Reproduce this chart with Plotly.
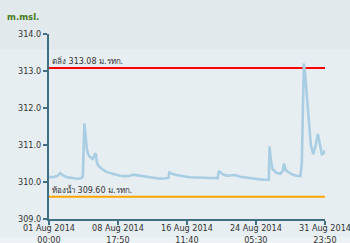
import plotly.graph_objects as go

times = [
    "2014-08-01 00:00", "2014-08-01 10:50", "2014-08-01 21:40", "2014-08-02 05:50", "2014-08-02 13:40",
    "2014-08-03 00:30", "2014-08-03 14:10", "2014-08-04 03:40", "2014-08-04 14:20", "2014-08-04 19:10",
    "2014-08-04 23:20", "2014-08-05 02:20", "2014-08-05 06:30", "2014-08-05 12:00", "2014-08-05 17:20",
    "2014-08-05 21:20", "2014-08-06 01:30", "2014-08-06 05:30", "2014-08-06 09:40", "2014-08-06 14:50",
    "2014-08-06 23:00", "2014-08-07 09:50", "2014-08-07 20:40", "2014-08-08 10:00", "2014-08-08 23:30",
    "2014-08-09 13:00", "2014-08-10 02:40", "2014-08-10 10:30", "2014-08-11 00:00", "2014-08-11 19:00",
    "2014-08-12 08:20", "2014-08-12 22:00", "2014-08-13 11:30", "2014-08-14 01:00", "2014-08-14 09:50",
    "2014-08-14 12:30", "2014-08-14 20:00", "2014-08-15 06:40", "2014-08-15 17:30", "2014-08-16 07:00",
    "2014-08-16 20:20", "2014-08-17 09:50", "2014-08-17 23:30", "2014-08-18 13:00", "2014-08-19 02:20",
    "2014-08-19 15:50", "2014-08-19 22:30", "2014-08-20 02:00", "2014-08-20 10:50", "2014-08-20 21:40",
    "2014-08-21 08:20", "2014-08-21 21:50", "2014-08-22 11:20", "2014-08-23 01:00", "2014-08-23 14:20",
    "2014-08-24 03:50", "2014-08-24 17:20", "2014-08-25 06:40", "2014-08-25 16:20", "2014-08-25 18:30",
    "2014-08-25 21:40", "2014-08-26 02:20", "2014-08-26 12:30", "2014-08-26 23:20", "2014-08-27 06:00",
    "2014-08-27 09:10", "2014-08-27 14:10", "2014-08-27 20:50", "2014-08-28 07:40", "2014-08-28 18:30",
    "2014-08-29 05:20", "2014-08-29 09:20", "2014-08-29 12:00", "2014-08-29 14:50", "2014-08-29 17:30",
    "2014-08-29 22:50", "2014-08-30 04:10", "2014-08-30 09:40", "2014-08-30 16:20", "2014-08-30 23:00",
    "2014-08-31 04:30", "2014-08-31 09:50", "2014-08-31 15:20", "2014-08-31 20:40", "2014-08-31 23:50",
]
water_level = [
    310.14, 310.13, 310.16, 310.24, 310.18,
    310.13, 310.11, 310.09, 310.10, 310.15,
    311.58, 311.20, 310.85, 310.70, 310.64,
    310.62, 310.70, 310.78, 310.50, 310.42,
    310.35, 310.28, 310.24, 310.20, 310.17,
    310.16, 310.17, 310.20, 310.18, 310.16,
    310.13, 310.10, 310.09, 310.10, 310.11,
    310.26, 310.22, 310.19, 310.18, 310.15,
    310.13, 310.12, 310.11, 310.11, 310.11,
    310.11, 310.10, 310.30, 310.22, 310.17,
    310.17, 310.19, 310.14, 310.12, 310.09,
    310.08, 310.07, 310.06, 310.06, 310.96,
    310.60, 310.35, 310.25, 310.22, 310.30,
    310.50, 310.32, 310.27, 310.20, 310.17,
    310.16, 310.50, 311.80, 313.20, 313.00,
    312.30, 311.50, 311.00, 310.75, 311.00,
    311.30, 311.00, 310.75, 310.78, 310.86,
]

bank_level = 313.08
bed_level = 309.60
bank_label = "ตลิ่ง 313.08 ม.รทก."
bed_label = "ท้องน้ำ 309.60 ม.รทก."
x_start = "2014-08-01 00:00"
x_end = "2014-08-31 23:50"
tick_times = ["2014-08-01 00:00", "2014-08-08 17:50", "2014-08-16 11:40", "2014-08-24 05:30", "2014-08-31 23:50"]
tick_labels = ["01 Aug 2014<br>00:00", "08 Aug 2014<br>17:50", "16 Aug 2014<br>11:40",
               "24 Aug 2014<br>05:30", "31 Aug 2014<br>23:50"]
y_ticks = [309.0, 310.0, 311.0, 312.0, 313.0, 314.0]

FONT = "DejaVu Sans Condensed, Liberation Sans, sans-serif"
AXIS_COLOR = "#3f6f80"

fig = go.Figure()
fig.add_trace(go.Scatter(x=[x_start, x_end], y=[bank_level, bank_level], mode="lines",
                         line=dict(color="#ff0000", width=2), hoverinfo="skip", showlegend=False))
fig.add_trace(go.Scatter(x=[x_start, x_end], y=[bed_level, bed_level], mode="lines",
                         line=dict(color="#ffa500", width=2), hoverinfo="skip", showlegend=False))
fig.add_trace(go.Scatter(x=times, y=water_level, mode="lines",
                         line=dict(color="#a9cde3", width=2.6), showlegend=False))

fig.add_annotation(x=x_start, y=bank_level, text=bank_label, showarrow=False,
                   xanchor="left", yanchor="bottom", xshift=1, yshift=0,
                   font=dict(family="DejaVu Sans, sans-serif", size=8, color="#333333"))
fig.add_annotation(x=x_start, y=bed_level, text=bed_label, showarrow=False,
                   xanchor="left", yanchor="bottom", xshift=1, yshift=0,
                   font=dict(family="DejaVu Sans, sans-serif", size=8, color="#333333"))
fig.add_annotation(x=0, y=1, xref="paper", yref="paper", text="<b>m.msl.</b>",
                   showarrow=False, xanchor="left", yanchor="middle",
                   xshift=-44, yshift=18,
                   font=dict(family=FONT, size=9.5, color="#4a7a1f"))

# background bands
fig.add_shape(type="rect", xref="paper", yref="paper", x0=-0.3, x1=1.2, y0=0.919, y1=1.3,
              fillcolor="#e1e9ec", line_width=0, layer="below")
fig.add_shape(type="rect", xref="paper", yref="paper", x0=-0.3, x1=1.2, y0=-0.2, y1=-0.0975,
              fillcolor="#edf2f4", line_width=0, layer="below")

fig.update_layout(
    width=350, height=243,
    margin=dict(l=49, r=25, t=34, b=24, autoexpand=False),
    paper_bgcolor="#e7eef1",
    plot_bgcolor="rgba(0,0,0,0)",
    font=dict(family=FONT, size=9, color="#333333"),
    xaxis=dict(
        type="date", range=[x_start, x_end],
        tickvals=tick_times, ticktext=tick_labels,
        showgrid=False, zeroline=False, automargin=False,
        showline=True, linecolor=AXIS_COLOR, linewidth=2,
        ticks="outside", ticklen=4, tickwidth=2, tickcolor=AXIS_COLOR,
        tickfont=dict(family=FONT, size=9, color="#333333"),
        ticklabeloverflow="allow", ticklabelstandoff=-5,
    ),
    yaxis=dict(
        range=[309, 314], tickvals=y_ticks, tickformat=".1f",
        showgrid=False, zeroline=False, automargin=False,
        showline=True, linecolor=AXIS_COLOR, linewidth=2,
        ticks="outside", ticklen=4, tickwidth=2, tickcolor=AXIS_COLOR,
        tickfont=dict(family=FONT, size=9, color="#333333"),
    ),
)

fig.write_html("out.html")
